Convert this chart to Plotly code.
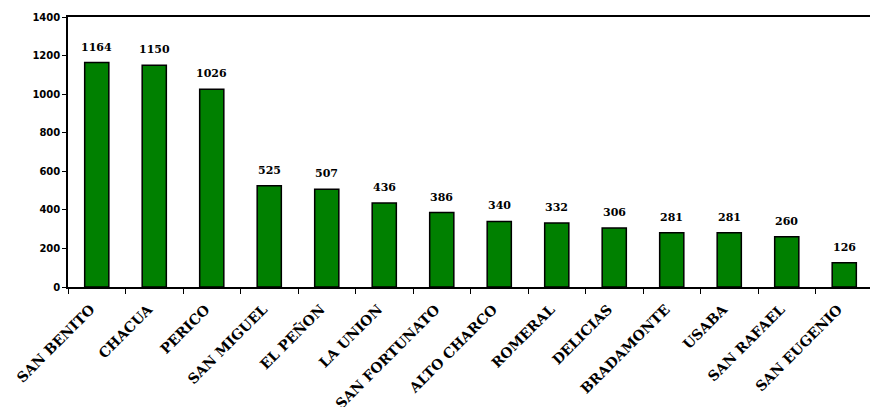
import plotly.graph_objects as go

categories = ["SAN BENITO", "CHACUA", "PERICO", "SAN MIGUEL", "EL PEÑON", "LA UNION",
              "SAN FORTUNATO", "ALTO CHARCO", "ROMERAL", "DELICIAS", "BRADAMONTE",
              "USABA", "SAN RAFAEL", "SAN EUGENIO"]
values = [1164, 1150, 1026, 525, 507, 436, 386, 340, 332, 306, 281, 281, 260, 126]

fig = go.Figure(go.Bar(
    x=categories, y=values,
    marker=dict(color="#008000", line=dict(color="black", width=1.5)),
    width=0.42,
))

for c, v in zip(categories, values):
    fig.add_annotation(x=c, y=v, text=str(v), showarrow=False, yanchor="bottom",
                       yshift=7,
                       font=dict(family="DejaVu Serif", size=11, color="black", weight="bold"))

# page body adds an 8px offset; margins compensate
fig.update_layout(
    width=878, height=407,
    margin=dict(l=60, r=13, t=9, b=128),
    paper_bgcolor="white", plot_bgcolor="white",
    showlegend=False,
    xaxis=dict(
        tickangle=-45, tickson="boundaries", ticks="outside", ticklen=5,
        tickcolor="black", showline=True, linecolor="black", linewidth=1.5,
        mirror=True, showgrid=False, automargin=False,
        ticklabelstandoff=7, ticklabelshift=-6,
        tickfont=dict(family="DejaVu Serif", size=14, color="black", weight="bold"),
    ),
    yaxis=dict(
        range=[0, 1400], dtick=200, ticks="outside", ticklen=4,
        tickcolor="black", showline=True, linecolor="black", linewidth=1.5,
        mirror=True, showgrid=False, zeroline=False, automargin=False,
        tickfont=dict(family="DejaVu Sans", size=10, color="black", weight="bold"),
    ),
)

fig.write_html("out.html")
